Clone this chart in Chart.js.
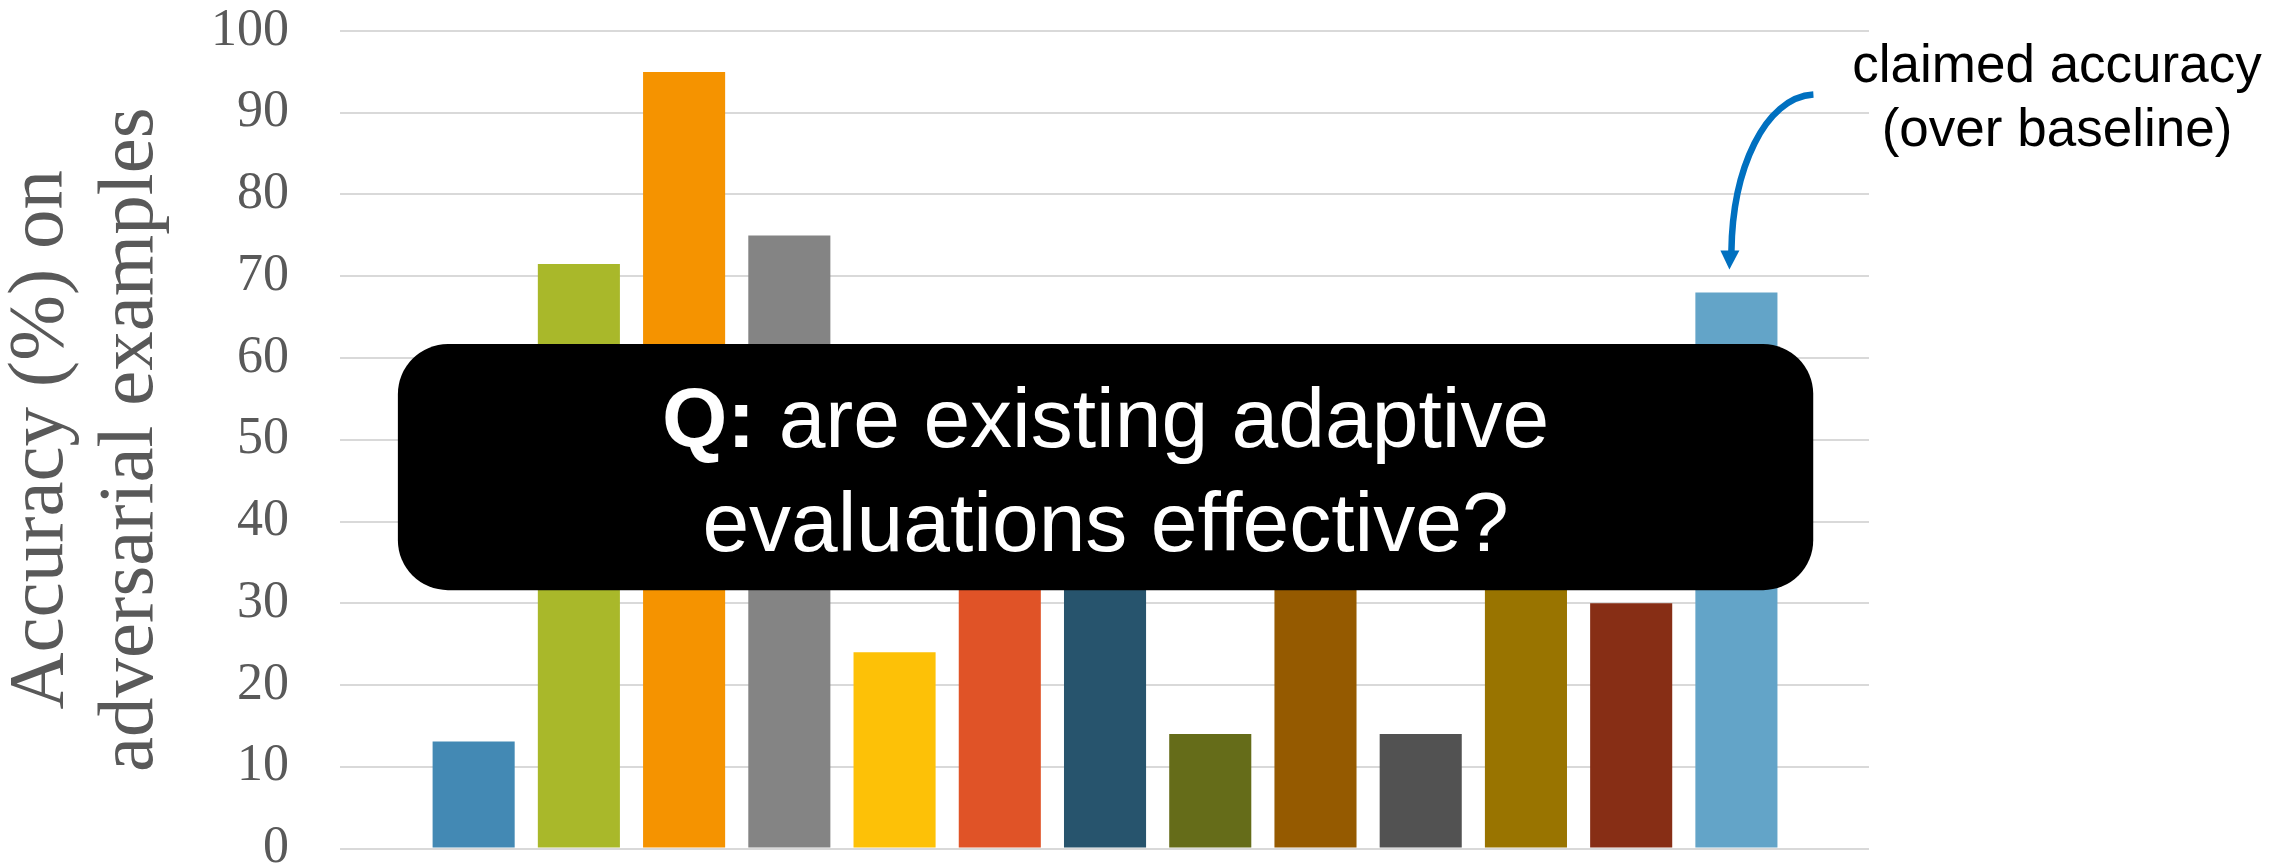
<!DOCTYPE html>
<html>
<head>
<meta charset="utf-8">
<script src="https://cdn.jsdelivr.net/npm/chart.js@4.4.1/dist/chart.umd.min.js"></script>
<style>
  html, body { margin: 0; padding: 0; background: #fff; }
  #wrap { width: 2286px; height: 865px; position: relative; }
</style>
</head>
<body>
<div id="wrap"><canvas id="myChart"></canvas></div>
<script>
  // accuracy (%) on adversarial examples, one bar per defense (tops hidden behind the box are estimates)
  var values = [13.1, 71.5, 95, 75, 24, 50, 42, 14, 48, 14, 55, 30, 68];
  var colors = ['#4389b4', '#a9b82a', '#f59300', '#848484', '#fdc107', '#e05327', '#27546d',
                '#656c19', '#955a00', '#525252', '#997400', '#872e15', '#63a4c8'];
  var yTicks = [0, 10, 20, 30, 40, 50, 60, 70, 80, 90, 100];
  var yTitle = ['Accuracy (%) on', 'adversarial examples'];
  var note = ['claimed accuracy', '(over baseline)'];
  var question = ['are existing adaptive', 'evaluations effective?'];
  var claimedIndex = 12;

  var points = values.map(function (v, i) { return { x: i, y: v }; });

  // overlay: question box, note and arrow
  var overlay = {
    id: 'overlay',
    afterDraw: function (chart) {
      var c = chart.ctx, xs = chart.scales.x, ys = chart.scales.y;

      // arrow pointing at the claimed bar
      var tipX = xs.getPixelForValue(claimedIndex) - 7;
      var tipY = ys.getPixelForValue(values[claimedIndex]) - 23;
      c.save();
      c.strokeStyle = '#0070c0';
      c.fillStyle = '#0070c0';
      c.lineWidth = 6.5;
      c.beginPath();
      c.moveTo(tipX + 84, tipY - 175);
      c.bezierCurveTo(tipX + 35, tipY - 172, tipX + 3, tipY - 100, tipX + 2, tipY - 18);
      c.stroke();
      c.beginPath();
      c.moveTo(tipX - 9, tipY - 19);
      c.lineTo(tipX + 10, tipY - 19);
      c.lineTo(tipX, tipY);
      c.closePath();
      c.fill();

      c.fillStyle = '#000';
      c.font = '53px "Liberation Sans", Arial, sans-serif';
      c.textAlign = 'center';
      c.textBaseline = 'alphabetic';
      c.fillText(note[0], 2057, 82);
      c.fillText(note[1], 2057, 146);

      // black question box
      var left = xs.getPixelForValue(-0.72), right = xs.getPixelForValue(12.73);
      var top = ys.getPixelForValue(61.7), bottom = ys.getPixelForValue(31.6);
      c.fillStyle = '#000';
      c.beginPath();
      c.roundRect(left, top, right - left, bottom - top, 50);
      c.fill();

      var cx = (left + right) / 2, cy = (top + bottom) / 2;
      c.fillStyle = '#fff';
      c.textAlign = 'left';
      var bold = 'bold 84px "Liberation Sans", Arial, sans-serif';
      var reg = '84px "Liberation Sans", Arial, sans-serif';
      c.font = bold;
      var qw = c.measureText('Q:').width;
      c.font = reg;
      var rw = c.measureText(' ' + question[0]).width;
      var x0 = cx - (qw + rw) / 2;
      c.font = bold;
      c.fillText('Q:', x0, cy - 20);
      c.font = reg;
      c.fillText(' ' + question[0], x0 + qw, cy - 20);
      c.textAlign = 'center';
      c.fillText(question[1], cx, cy + 84);
      c.restore();
    }
  };

  var ctx = document.getElementById('myChart');
  new Chart(ctx, {
    type: 'bar',
    data: {
      datasets: [{
        data: points,
        backgroundColor: colors,
        borderWidth: 0,
        categoryPercentage: 1,
        barPercentage: 0.78
      }]
    },
    options: {
      responsive: true,
      maintainAspectRatio: false,
      animation: false,
      layout: { padding: { top: 31, right: 417, bottom: 16.5, left: 0 } },
      plugins: { legend: { display: false }, tooltip: { enabled: false } },
      scales: {
        x: {
          type: 'linear',
          display: false,
          offset: false,
          bounds: 'data',
          min: -1.27,
          max: 13.26,
          afterBuildTicks: function (s) { s.ticks = points.map(function (p) { return { value: p.x }; }); },
          grid: { offset: false }
        },
        y: {
          min: 0,
          max: 100,
          afterBuildTicks: function (s) { s.ticks = yTicks.map(function (v) { return { value: v }; }); },
          afterFit: function (s) { s.paddingTop = 0; s.paddingBottom = 0; s.width = 340; },
          grid: { color: '#d9d9d9', lineWidth: 2, drawTicks: false },
          border: { display: false },
          ticks: {
            padding: 51,
            color: '#595959',
            font: { family: '"Liberation Serif", serif', size: 52 }
          },
          title: {
            display: true,
            text: yTitle,
            color: '#595959',
            font: { family: '"Liberation Serif", serif', size: 79, lineHeight: 1.14 },
            padding: { top: -4, bottom: 0 }
          }
        }
      }
    },
    plugins: [overlay]
  });
</script>
</body>
</html>
